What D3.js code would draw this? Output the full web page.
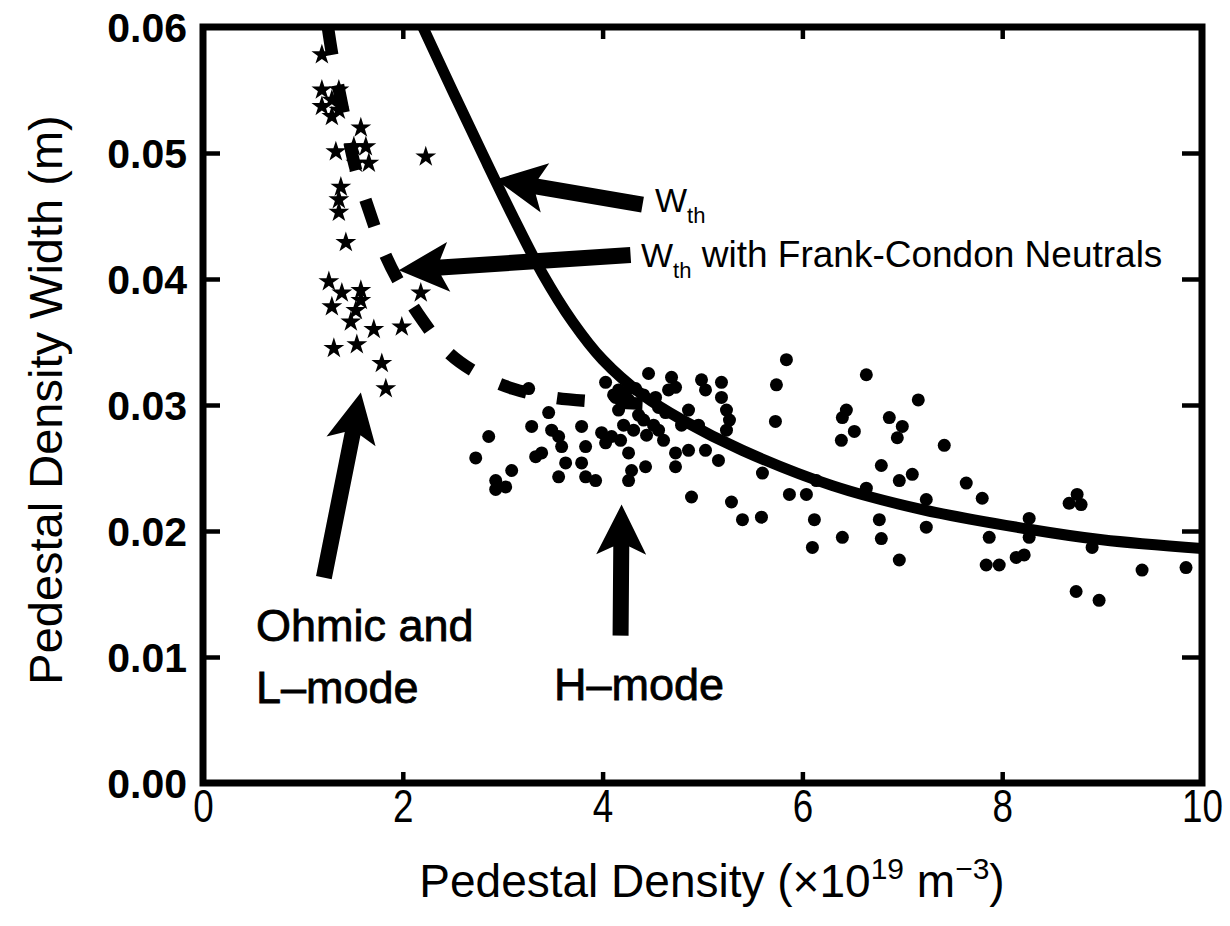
<!DOCTYPE html>
<html>
<head>
<meta charset="utf-8">
<script src="https://cdn.jsdelivr.net/npm/d3@7"></script>
<style>
  html, body { margin: 0; padding: 0; background: #fff; }
  svg { display: block; }
  text { fill: #000; font-family: "Liberation Sans", Arial, Helvetica, sans-serif; }
</style>
</head>
<body>
<svg id="chart" width="1230" height="926"></svg>
<script>
// Axis ticks
const xTicks = [0, 2, 4, 6, 8, 10];
const yTicks = [0, 0.01, 0.02, 0.03, 0.04, 0.05, 0.06];

// Ohmic and L-mode discharges (stars): density, width
const ohmicN = [1.19, 1.19, 1.36, 1.19, 1.36, 1.29, 1.29, 1.58, 1.33, 1.51, 1.63, 1.53, 1.66, 2.23,
                1.38, 1.36, 1.36, 1.43, 1.26, 1.39, 1.58, 1.58, 1.29, 1.53, 1.48, 1.31, 1.54, 1.71,
                1.99, 2.18, 1.79, 1.83];
const ohmicW = [0.0578, 0.0550, 0.0550, 0.0537, 0.0534, 0.0529, 0.0542, 0.0520, 0.0501, 0.0505, 0.0505, 0.0492, 0.0492, 0.0497,
                0.0473, 0.0463, 0.0453, 0.0429, 0.0398, 0.0389, 0.0391, 0.0383, 0.0378, 0.0375, 0.0366, 0.0345, 0.0348, 0.0360,
                0.0362, 0.0389, 0.0333, 0.0313];

// H-mode discharges (dots): density, width
const hmodeN = [2.86, 2.73, 2.93, 3.03, 3.09, 2.93, 3.26, 3.33, 3.39, 3.46, 3.29, 3.49, 3.56, 3.59, 3.63, 3.56,
                3.79, 3.83, 3.79, 3.83, 3.93, 4.03, 3.99, 4.03, 4.11, 4.16, 4.21, 4.09, 4.26, 4.36, 4.41, 4.51,
                4.44, 4.56, 4.46, 4.69, 4.73, 4.66, 4.26, 4.29, 4.26, 4.43, 4.73, 4.73, 4.86, 4.89, 4.99, 5.03,
                5.19, 5.19, 5.24, 5.27, 5.24, 5.03, 5.16, 5.29, 5.40, 5.59, 5.84, 5.74, 5.73, 5.60, 5.87, 6.04,
                6.14, 6.12, 6.10, 6.40, 6.64, 6.44, 6.40, 6.52, 6.39, 6.87, 7.00, 6.95, 6.79, 6.97, 7.10, 6.64,
                6.77, 6.79, 6.97, 7.16, 7.42, 7.64, 7.80, 7.24, 7.24, 7.87, 7.84, 7.97, 8.14, 8.22, 8.27, 8.27,
                8.75, 8.67, 8.79, 8.90, 9.40, 9.84, 8.74, 8.97, 4.86, 4.79, 4.61, 4.16, 4.96,
                4.13, 4.23, 4.33, 4.53, 4.63, 4.31, 4.18, 4.56, 4.41];
const hmodeW = [0.0275, 0.0258, 0.0240, 0.0235, 0.0248, 0.0233, 0.0313, 0.0259, 0.0262, 0.0294, 0.0283, 0.0280, 0.0275, 0.0267, 0.0254, 0.0243,
                0.0283, 0.0267, 0.0254, 0.0243, 0.0240, 0.0318, 0.0278, 0.0270, 0.0308, 0.0296, 0.0284, 0.0275, 0.0304, 0.0292, 0.0308, 0.0284,
                0.0276, 0.0298, 0.0325, 0.0322, 0.0314, 0.0312, 0.0262, 0.0248, 0.0240, 0.0251, 0.0262, 0.0251, 0.0264, 0.0227, 0.0320, 0.0312,
                0.0318, 0.0306, 0.0296, 0.0288, 0.0280, 0.0264, 0.0256, 0.0223, 0.0209, 0.0211, 0.0336, 0.0316, 0.0287, 0.0246, 0.0229, 0.0229,
                0.0240, 0.0209, 0.0187, 0.0195, 0.0324, 0.0296, 0.0290, 0.0279, 0.0272, 0.0290, 0.0283, 0.0274, 0.0252, 0.0240, 0.0245, 0.0234,
                0.0209, 0.0194, 0.0177, 0.0304, 0.0268, 0.0238, 0.0226, 0.0225, 0.0203, 0.0195, 0.0173, 0.0173, 0.0179, 0.0181, 0.0210, 0.0195,
                0.0229, 0.0222, 0.0221, 0.0187, 0.0169, 0.0171, 0.0152, 0.0145, 0.0296, 0.0284, 0.0272, 0.0312, 0.0284,
                0.0306, 0.0310, 0.0313, 0.0306, 0.0294, 0.0280, 0.0272, 0.0280, 0.0288];

// W_th model curve
const wthN = [2.20, 2.50, 2.80, 3.10, 3.40, 3.70, 4.00, 4.40, 4.80, 5.40, 6.30, 7.20, 8.30, 9.00, 10.0];
const wthW = [0.0600, 0.0549, 0.0499, 0.0450, 0.0404, 0.0366, 0.0336, 0.0308, 0.0288, 0.0264, 0.0236, 0.0217, 0.0201, 0.0193, 0.0186];

// W_th with Frank-Condon neutrals curve
const fcN = [1.25, 1.30, 1.40, 1.52, 1.66, 1.82, 2.00, 2.20, 2.45, 2.75, 3.10, 3.50, 3.90, 4.40];
const fcW = [0.0600, 0.0575, 0.0535, 0.0490, 0.0455, 0.0420, 0.0392, 0.0367, 0.0342, 0.0325, 0.0313, 0.0306, 0.0303, 0.0301];

// Annotation arrows: tail (n, w) -> tip (n, w)
const arrowTail = [[4.40, 0.0459], [4.28, 0.0419], [1.21, 0.0163], [4.18, 0.0117]];
const arrowTip  = [[2.93, 0.0479], [1.96, 0.0407], [1.58, 0.0310], [4.19, 0.0221]];

const svg = d3.select("#chart");
const frameL = 203, frameR = 1202, frameT = 27, frameB = 783;

const x = d3.scaleLinear().domain([0, 10]).range([frameL, frameR]);
const y = d3.scaleLinear().domain([0, 0.06]).range([frameB, frameT]);

// Clip marks to the frame
svg.append("defs").append("clipPath").attr("id", "plotClip")
  .append("rect").attr("x", frameL).attr("y", frameT).attr("width", frameR - frameL).attr("height", frameB - frameT);

const plot = svg.append("g").attr("clip-path", "url(#plotClip)");

// Curves
const smooth = d3.line().x(d => x(d[0])).y(d => y(d[1])).curve(d3.curveCatmullRom.alpha(0.5));
plot.append("path")
  .datum(wthN.map((n, i) => [n, wthW[i]]))
  .attr("d", smooth)
  .attr("fill", "none").attr("stroke", "#000").attr("stroke-width", 11);

plot.append("path")
  .datum(fcN.map((n, i) => [n, fcW[i]]))
  .attr("d", smooth)
  .attr("fill", "none").attr("stroke", "#000").attr("stroke-width", 12.5)
  .attr("stroke-dasharray", "28 31");

// Ohmic / L-mode stars
plot.append("g").selectAll("path")
  .data(ohmicN.map((n, i) => [n, ohmicW[i]]))
  .join("path")
  .attr("transform", d => `translate(${x(d[0])},${y(d[1])})`)
  .attr("d", d3.symbol().type(d3.symbolStar).size(135))
  .attr("fill", "#000");

// H-mode dots
plot.append("g").selectAll("circle")
  .data(hmodeN.map((n, i) => [n, hmodeW[i]]))
  .join("circle")
  .attr("cx", d => x(d[0])).attr("cy", d => y(d[1]))
  .attr("r", 6.5).attr("fill", "#000");

// Frame
svg.append("rect")
  .attr("x", frameL).attr("y", frameT).attr("width", frameR - frameL).attr("height", frameB - frameT)
  .attr("fill", "none").attr("stroke", "#000").attr("stroke-width", 7);

// Axes with inward ticks
const fmtY = d3.format(".2f");
const gLeft = svg.append("g").attr("transform", `translate(${frameL},0)`)
  .call(d3.axisLeft(y).tickValues(yTicks).tickSize(-17).tickPadding(16).tickFormat(fmtY));
gLeft.selectAll("text").style("font-size", "41px").style("font-weight", "bold").attr("dy", "0.36em");

const gBottom = svg.append("g").attr("transform", `translate(0,${frameB})`)
  .call(d3.axisBottom(x).tickValues(xTicks).tickSize(-11).tickPadding(6).tickFormat(d3.format("d")));
// condensed numerals
gBottom.selectAll("text").style("font-size", "46px").attr("transform", "scale(0.8,1)");

svg.append("g").attr("transform", `translate(${frameR},0)`)
  .call(d3.axisRight(y).tickValues(yTicks.slice(1, -1)).tickSize(-20).tickFormat(""));
svg.append("g").attr("transform", `translate(0,${frameT})`)
  .call(d3.axisTop(x).tickValues(xTicks.slice(1, -1)).tickSize(-12).tickFormat(""));

svg.selectAll(".domain").remove();
svg.selectAll(".tick line").attr("stroke", "#000").attr("stroke-width", 4.5);

// Axis titles
const xTitle = svg.append("text")
  .attr("x", 712).attr("y", 897).attr("text-anchor", "middle")
  .style("font-size", "46px");
xTitle.append("tspan").text("Pedestal Density (\u00d710");
xTitle.append("tspan").attr("dy", -18).style("font-size", "30px").text("19");
xTitle.append("tspan").attr("dy", 18).text(" m");
xTitle.append("tspan").attr("dy", -18).style("font-size", "30px").text("\u22123");
xTitle.append("tspan").attr("dy", 18).text(")");

svg.append("text")
  .attr("transform", "translate(62,400) rotate(-90)")
  .attr("text-anchor", "middle")
  .style("font-size", "47px")
  .text("Pedestal Density Width (m)");

// Arrows
function arrowPoints(p0, p1, shaft, headL, headW, barb) {
  const dx = p1[0] - p0[0], dy = p1[1] - p0[1];
  const len = Math.hypot(dx, dy);
  const ux = dx / len, uy = dy / len, nx = -uy, ny = ux;
  const bx = p1[0] - ux * headL, by = p1[1] - uy * headL;
  const s = shaft / 2, h = headW / 2;
  return [
    [p0[0] + nx * s, p0[1] + ny * s],
    [bx + nx * s, by + ny * s],
    [bx - ux * barb + nx * h, by - uy * barb + ny * h],
    [p1[0], p1[1]],
    [bx - ux * barb - nx * h, by - uy * barb - ny * h],
    [bx - nx * s, by - ny * s],
    [p0[0] - nx * s, p0[1] - ny * s]
  ];
}
svg.append("g").selectAll("polygon")
  .data(arrowTail.map((t, i) => [t, arrowTip[i]]))
  .join("polygon")
  .attr("points", d => arrowPoints([x(d[0][0]), y(d[0][1])], [x(d[1][0]), y(d[1][1])], 16, 42, 50, 8)
    .map(p => p.join(",")).join(" "))
  .attr("fill", "#000");

// Curve labels
const l1 = svg.append("text").attr("x", 655).attr("y", 212).style("font-size", "34px");
l1.append("tspan").text("W");
l1.append("tspan").attr("dy", 11).style("font-size", "22px").text("th");

const l2 = svg.append("text").attr("x", 641).attr("y", 267).style("font-size", "34px");
l2.append("tspan").text("W");
l2.append("tspan").attr("dy", 11).style("font-size", "22px").text("th");
l2.append("tspan").attr("dy", -11).style("font-size", "37px").text(" with Frank-Condon Neutrals");

// Region labels
const regionStyle = sel => sel.style("font-size", "45px").style("stroke", "#000").style("stroke-width", 0.8);
svg.append("text").attr("x", 256).attr("y", 641).text("Ohmic and").call(regionStyle);
svg.append("text").attr("x", 256).attr("y", 703).text("L\u2013mode").call(regionStyle);
svg.append("text").attr("x", 554).attr("y", 700).text("H\u2013mode").call(regionStyle);
</script>
</body>
</html>
